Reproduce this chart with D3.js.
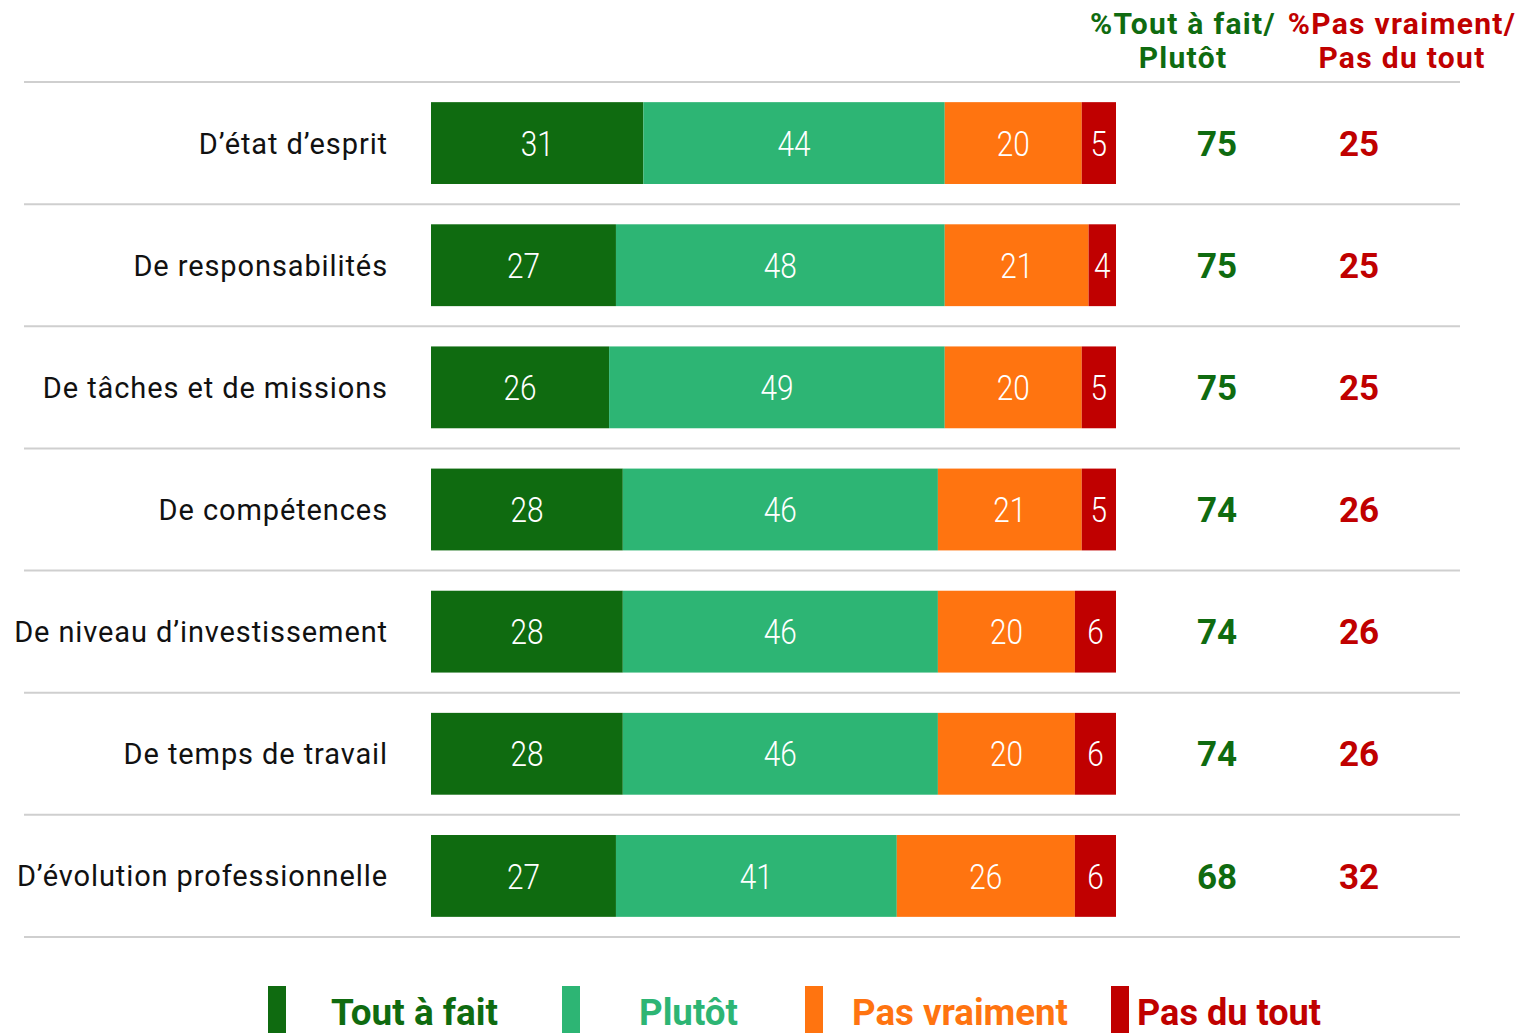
<!DOCTYPE html>
<html>
<head>
<meta charset="utf-8">
<script src="https://cdn.jsdelivr.net/npm/d3@7"></script>
<style>
  body { margin: 0; background: #fff; }
  text { font-family: Roboto, "Noto Sans", sans-serif; }
</style>
</head>
<body>
<div id="chart"></div>
<script>
/* DATA */
const categories = [
  "D’état d’esprit",
  "De responsabilités",
  "De tâches et de missions",
  "De compétences",
  "De niveau d’investissement",
  "De temps de travail",
  "D’évolution professionnelle"
];
const toutAFait = [31, 27, 26, 28, 28, 28, 27];
const plutot = [44, 48, 49, 46, 46, 46, 41];
const pasVraiment = [20, 21, 20, 21, 20, 20, 26];
const pasDuTout = [5, 4, 5, 5, 6, 6, 6];
const totalPositive = [75, 75, 75, 74, 74, 74, 68];
const totalNegative = [25, 25, 25, 26, 26, 26, 32];
const seriesNames = ["Tout à fait", "Plutôt", "Pas vraiment", "Pas du tout"];
const colors = ["#0f6b10", "#2db574", "#ff7410", "#c00000"];

/* CONSTANTS */
const width = 1519, height = 1033;
const margin = { top: 82, bottom: 96, left: 431, right: 403 };

const svg = d3.select("#chart").append("svg")
  .attr("width", width)
  .attr("height", height);

// build rows for the stack
const rows = categories.map((c, i) => ({
  category: c,
  "Tout à fait": toutAFait[i],
  "Plutôt": plutot[i],
  "Pas vraiment": pasVraiment[i],
  "Pas du tout": pasDuTout[i]
}));

const stacked = d3.stack().keys(seriesNames)(rows);

const xScale = d3.scaleLinear()
  .domain([0, 100])
  .range([margin.left, width - margin.right]);

const yScale = d3.scaleBand()
  .domain(categories)
  .range([margin.top, height - margin.bottom])
  .paddingInner(0.33)
  .paddingOuter(0.165);

const colorScale = d3.scaleOrdinal(seriesNames, colors);

// grid lines between rows
const lineYs = d3.range(categories.length + 1).map(i => margin.top + i * ((height - margin.bottom - margin.top) / categories.length));
svg.selectAll(".grid")
  .data(lineYs)
  .join("line")
  .attr("class", "grid")
  .attr("x1", 24)
  .attr("x2", 1460)
  .attr("y1", d => d)
  .attr("y2", d => d)
  .attr("stroke", "#cfcfcf")
  .attr("stroke-width", 2);

// bars
const layers = svg.selectAll(".layer")
  .data(stacked)
  .join("g")
  .attr("class", "layer")
  .attr("fill", d => colorScale(d.key));

layers.selectAll("rect")
  .data(d => d.map(v => ({ key: d.key, v })))
  .join("rect")
  .attr("x", d => xScale(d.v[0]))
  .attr("y", d => yScale(d.v.data.category))
  .attr("width", d => xScale(d.v[1]) - xScale(d.v[0]))
  .attr("height", yScale.bandwidth());

// value labels
layers.selectAll("text")
  .data(d => d.map(v => ({ key: d.key, v })))
  .join("text")
  .attr("x", d => (xScale(d.v[0]) + xScale(d.v[1])) / 2)
  .attr("y", d => yScale(d.v.data.category) + yScale.bandwidth() / 2)
  .attr("dy", "0.36em")
  .attr("text-anchor", "middle")
  .attr("fill", "#fff")
  .attr("font-size", 35)
  .attr("font-weight", 300)
  .attr("transform", d => {
    const cx = (xScale(d.v[0]) + xScale(d.v[1])) / 2;
    return `translate(${cx},0) scale(0.85,1) translate(${-cx},0)`;
  })
  .text(d => d.v[1] - d.v[0]);

// category labels
svg.selectAll(".cat")
  .data(categories)
  .join("text")
  .attr("class", "cat")
  .attr("x", 388)
  .attr("y", d => yScale(d) + yScale.bandwidth() / 2)
  .attr("dy", "0.36em")
  .attr("text-anchor", "end")
  .attr("font-size", 29)
  .attr("font-weight", 400)
  .attr("letter-spacing", 0.9)
  .attr("fill", "#111")
  .text(d => d);

// totals
const totX = [1217, 1359];
[[totalPositive, colors[0]], [totalNegative, colors[3]]].forEach(([vals, col], k) => {
  svg.selectAll(".tot" + k)
    .data(vals)
    .join("text")
    .attr("class", "tot" + k)
    .attr("x", totX[k])
    .attr("y", (d, i) => yScale(categories[i]) + yScale.bandwidth() / 2)
    .attr("dy", "0.36em")
    .attr("text-anchor", "middle")
    .attr("font-size", 35)
    .attr("font-weight", 700)
    .attr("fill", col)
    .text(d => d);
});

// header
const headers = [
  { lines: ["%Tout à fait/", "Plutôt"], x: 1183, color: colors[0] },
  { lines: ["%Pas vraiment/", "Pas du tout"], x: 1402, color: colors[3] }
];
headers.forEach(h => {
  svg.selectAll(null)
    .data(h.lines)
    .join("text")
    .attr("x", h.x)
    .attr("y", (d, i) => 34 + i * 34)
    .attr("text-anchor", "middle")
    .attr("font-size", 30)
    .attr("font-weight", 700)
    .attr("letter-spacing", 1.3)
    .attr("fill", h.color)
    .text(d => d);
});

// legend
const legendX = [268, 562, 805, 1111];
const legendTextX = [331, 639, 852, 1137];
const legendW = [167, 99, 216, 184];
const legend = svg.selectAll(".legend")
  .data(seriesNames)
  .join("g")
  .attr("class", "legend");

legend.append("rect")
  .attr("x", (d, i) => legendX[i])
  .attr("y", 986)
  .attr("width", 18)
  .attr("height", 47)
  .attr("fill", d => colorScale(d));

legend.append("text")
  .attr("x", (d, i) => legendTextX[i])
  .attr("y", 1025)
  .attr("font-size", 36)
  .attr("font-weight", 700)
  .attr("fill", d => colorScale(d))
  .attr("textLength", (d, i) => legendW[i])
  .attr("lengthAdjust", "spacingAndGlyphs")
  .text(d => d);
</script>
</body>
</html>
